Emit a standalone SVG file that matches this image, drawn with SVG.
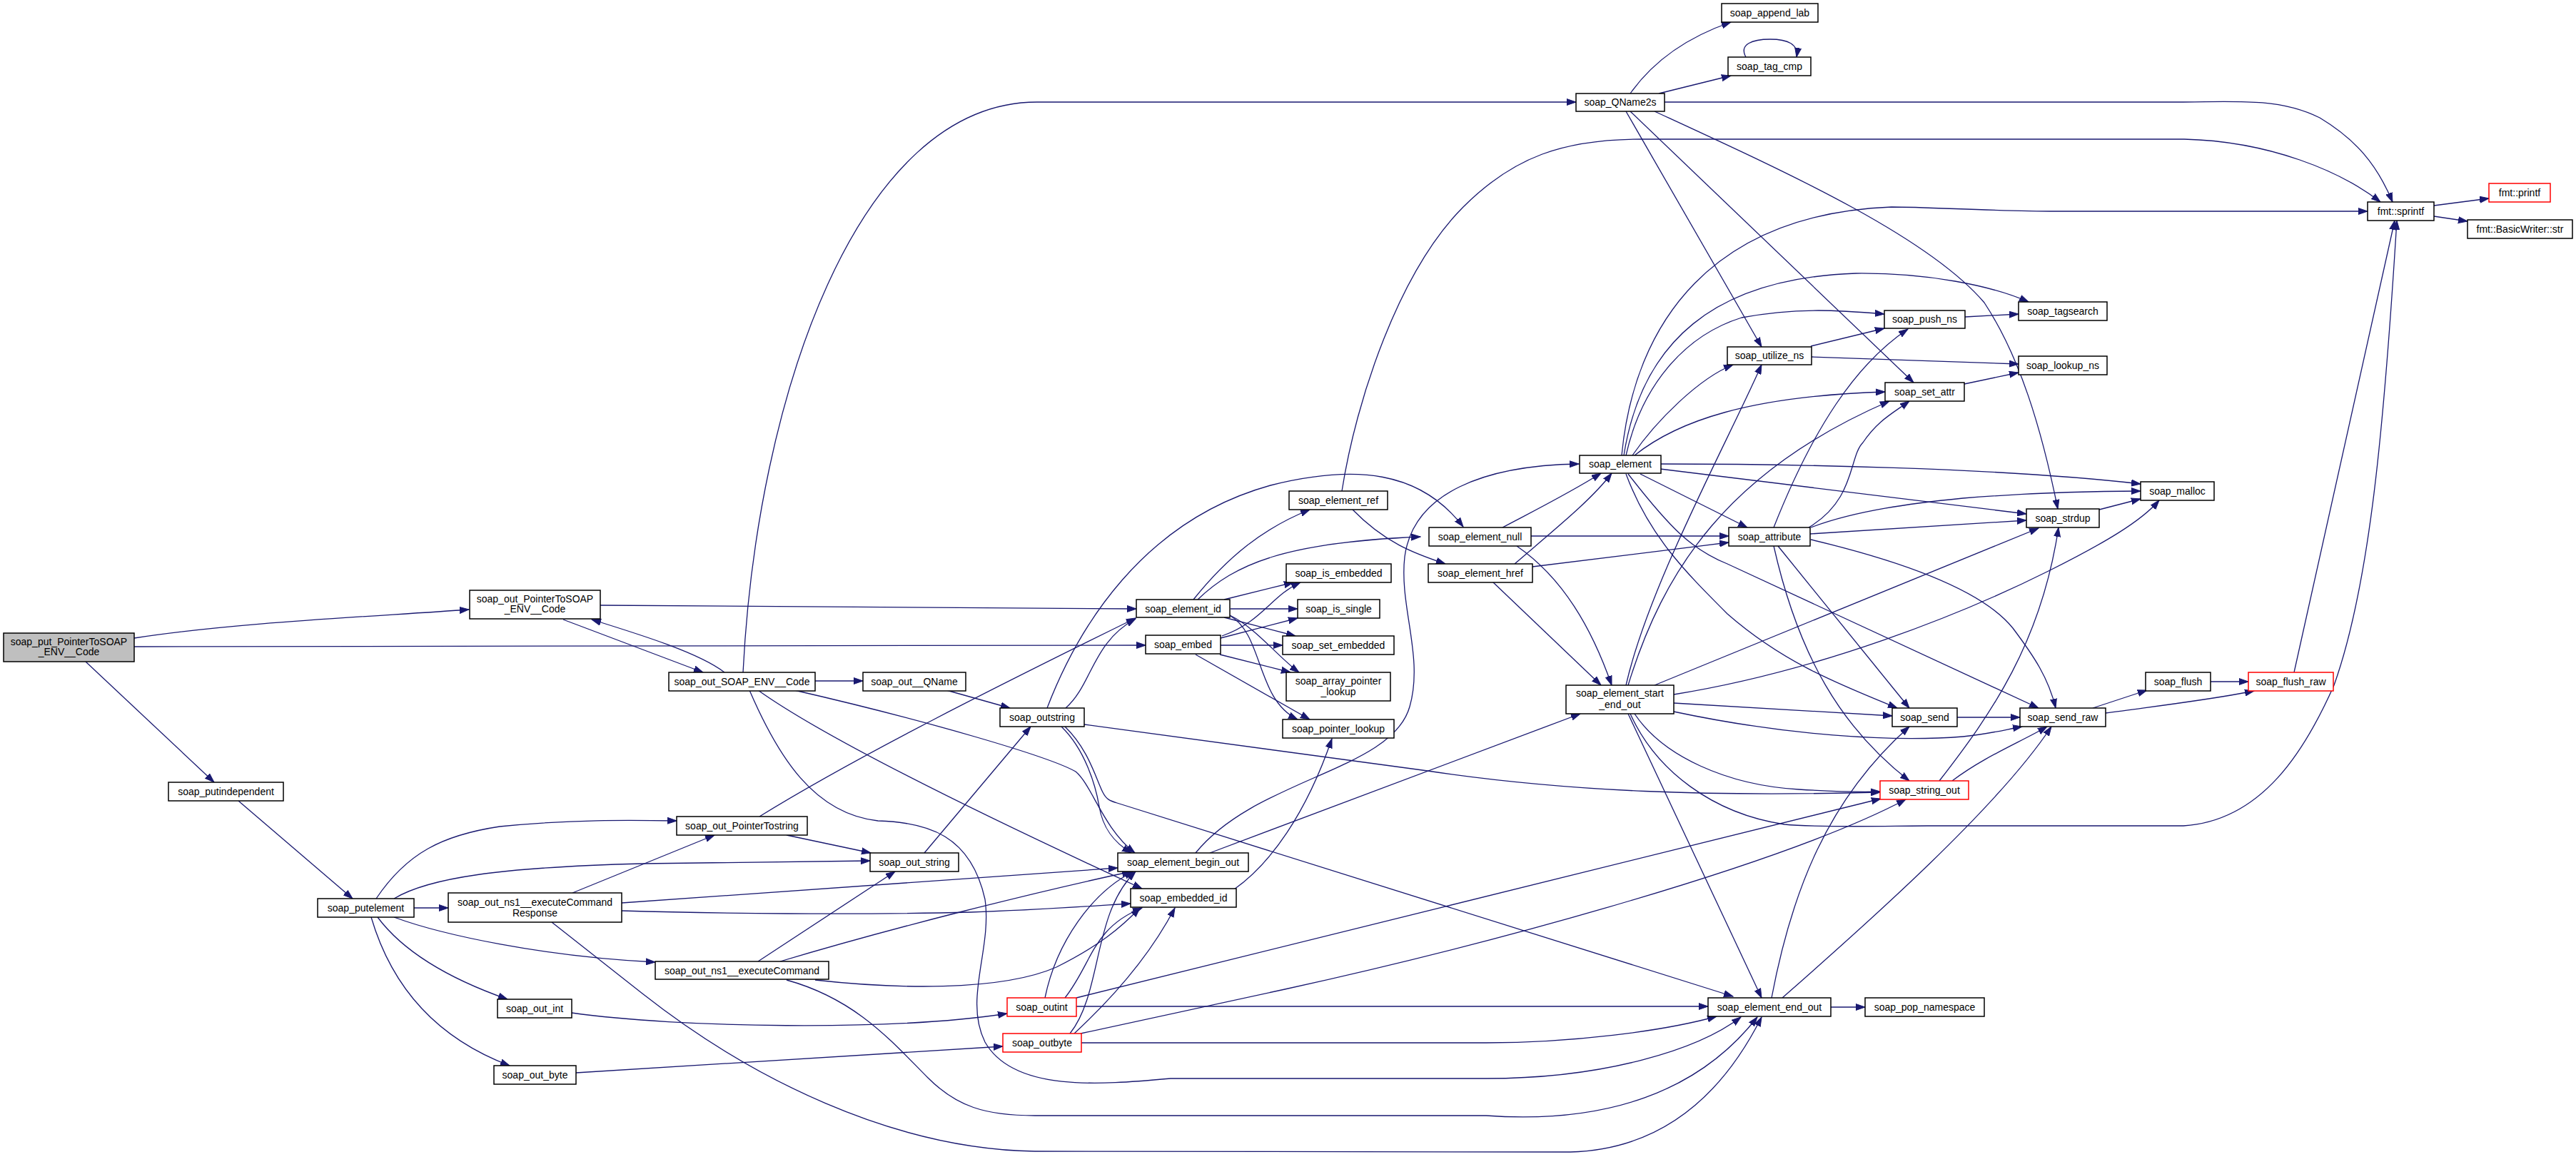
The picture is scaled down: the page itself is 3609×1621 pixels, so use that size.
<svg xmlns="http://www.w3.org/2000/svg" width="3609" height="1621" viewBox="0 0 3609 1621">
<style>
.n rect{fill:#fff;stroke:#000;stroke-width:1.5}
.n.r rect{stroke:#ff0000}
.n.g rect{fill:#bfbfbf}
.n text{font-family:"Liberation Sans",Arial,sans-serif;font-size:14px;text-anchor:middle;fill:#000}
#edges path{fill:none;stroke:#191970;stroke-width:1.3;marker-end:url(#a)}
</style>
<defs>
<marker id="a" markerUnits="userSpaceOnUse" markerWidth="14" markerHeight="10" refX="13" refY="5" orient="auto" viewBox="0 0 14 10">
<path d="M0,0.5 L13,5 L0,9.5 z" fill="#191970" stroke="#191970" stroke-width="1"/>
</marker>
</defs>
<rect width="3609" height="1621" fill="#fff"/>
<g id="edges">
<path d="M188,894 C330,872 520,864 657,854"/>
<path d="M188,906 L1605,904"/>
<path d="M120,927 L300,1096"/>
<path d="M841,848 C1000,849 1400,852 1592,853"/>
<path d="M789,868 L985,942"/>
<path d="M1015,942 C980,915 900,890 829,868"/>
<path d="M1142,954 L1209,954"/>
<path d="M1041,942 C1060,560 1200,143 1453,143 L2208,143"/>
<path d="M1113,967 C1300,1010 1470,1060 1507,1081 C1530,1100 1545,1160 1590,1195"/>
<path d="M1062,967 C1150,1030 1350,1130 1600,1245"/>
<path d="M1050,967 C1090,1060 1140,1140 1230,1150 C1300,1152 1360,1170 1380,1260 C1390,1330 1350,1400 1380,1460 C1420,1530 1540,1520 1640,1511 L2082,1511 C2250,1511 2380,1470 2439,1425"/>
<path d="M334,1122 L494,1259"/>
<path d="M527,1259 C570,1195 620,1170 700,1158 C800,1148 880,1149 948,1150"/>
<path d="M552,1259 C600,1230 700,1215 900,1210 L1219,1206"/>
<path d="M580,1272 L628,1272"/>
<path d="M552,1285 C620,1310 760,1340 918,1348"/>
<path d="M529,1285 C570,1340 640,1375 711,1400"/>
<path d="M520,1285 C545,1370 600,1450 714,1493"/>
<path d="M802,1251 L1001,1170"/>
<path d="M871,1265 L1566,1216"/>
<path d="M871,1276 C1000,1280 1200,1282 1360,1278 C1450,1275 1520,1270 1584,1266"/>
<path d="M773,1292 L900,1392 C1050,1510 1250,1610 1450,1613 L2200,1614 C2340,1610 2420,1520 2468,1425"/>
<path d="M1062,1347 L1254,1221"/>
<path d="M1093,1347 C1250,1300 1450,1250 1585,1221"/>
<path d="M1142,1373 C1250,1385 1400,1390 1480,1355 C1540,1325 1570,1300 1597,1272"/>
<path d="M1102,1373 C1200,1400 1250,1460 1300,1510 C1340,1550 1380,1563 1450,1563 L2082,1563 C2250,1575 2380,1530 2462,1425"/>
<path d="M801,1419 C950,1440 1250,1445 1411,1420"/>
<path d="M807,1503 L1405,1466"/>
<path d="M1464,1398 C1480,1320 1530,1250 1588,1221"/>
<path d="M1492,1398 C1530,1350 1530,1300 1600,1272"/>
<path d="M1508,1398 L2635,1119"/>
<path d="M1508,1410 L2393,1410"/>
<path d="M1499,1448 C1545,1390 1530,1280 1591,1221"/>
<path d="M1505,1448 Q1600,1360 1646,1272"/>
<path d="M1514,1448 L1800,1386 C2100,1320 2500,1210 2670,1120"/>
<path d="M1514,1461 L2082,1461 C2200,1461 2330,1445 2405,1424"/>
<path d="M1729,1246 C1780,1210 1830,1140 1866,1035"/>
<path d="M1675,1195 C1760,1090 1950,1080 1975,990 C1995,920 1960,850 1968,780 C1980,690 2080,652 2212,650"/>
<path d="M1695,1195 L2214,1000"/>
<path d="M1102,1170 L1220,1195"/>
<path d="M1064,1144 C1200,1060 1400,960 1591,866"/>
<path d="M1295,1195 L1444,1018"/>
<path d="M1326,967 L1415,992"/>
<path d="M1493,992 C1530,960 1530,900 1591,867"/>
<path d="M1467,992 C1510,880 1600,730 1780,680 C1900,650 1990,660 2050,738"/>
<path d="M1487,1018 C1520,1050 1535,1100 1540,1130 C1545,1160 1560,1180 1585,1195"/>
<path d="M1492,1018 C1525,1050 1535,1090 1545,1110 C1550,1120 1555,1122 1565,1125 L2428,1396"/>
<path d="M1519,1015 L2000,1080 C2200,1110 2400,1116 2634,1110"/>
<path d="M1672,840 C1720,780 1770,740 1835,714"/>
<path d="M1678,840 C1730,790 1800,760 1990,752"/>
<path d="M1715,840 L1812,816"/>
<path d="M1712,891 C1770,870 1780,835 1822,816"/>
<path d="M1724,853 L1818,853"/>
<path d="M1710,894 L1818,866"/>
<path d="M1715,865 L1815,891"/>
<path d="M1710,904 L1797,904"/>
<path d="M1723,862 C1760,880 1790,920 1820,942"/>
<path d="M1709,917 L1808,942"/>
<path d="M1724,863 C1770,890 1760,980 1818,1008"/>
<path d="M1675,917 L1835,1008"/>
<path d="M1895,714 C1940,760 1980,775 2025,790"/>
<path d="M1880,688 C1900,560 1960,380 2050,290 C2120,220 2190,195 2300,195 L3060,195 C3180,198 3280,240 3335,283"/>
<path d="M2105,739 C2160,710 2200,690 2243,663"/>
<path d="M2145,751 L2422,751"/>
<path d="M2125,765 C2190,810 2230,880 2258,960"/>
<path d="M2122,790 C2180,740 2230,700 2258,663"/>
<path d="M2147,794 L2422,760"/>
<path d="M2091,815 L2243,960"/>
<path d="M2272,638 C2290,450 2400,300 2650,290 C2700,290 2800,296 2880,296 L3317,296"/>
<path d="M2275,638 C2300,480 2400,390 2600,383 C2700,382 2790,400 2842,423"/>
<path d="M2278,638 C2300,540 2360,470 2440,445 C2520,430 2580,435 2640,440"/>
<path d="M2287,638 C2320,590 2380,530 2428,511"/>
<path d="M2290,638 C2350,590 2450,555 2641,549"/>
<path d="M2326,650 C2500,650 2800,655 2999,678"/>
<path d="M2326,657 L2839,720"/>
<path d="M2298,664 L2448,739"/>
<path d="M2281,664 C2340,740 2370,770 2420,790 L2856,992"/>
<path d="M2278,664 C2310,750 2360,800 2420,860 C2500,930 2580,960 2658,992"/>
<path d="M2485,739 C2540,600 2600,510 2673,461"/>
<path d="M2534,739 C2600,700 2590,640 2610,620 C2630,590 2650,580 2675,562"/>
<path d="M2537,739 C2600,715 2680,705 2750,698 C2850,690 2930,688 2999,688"/>
<path d="M2536,748 L2839,729"/>
<path d="M2537,756 C2680,790 2780,830 2820,880 C2850,920 2870,950 2880,992"/>
<path d="M2485,765 C2520,920 2580,1020 2675,1094"/>
<path d="M2491,765 L2675,992"/>
<path d="M2278,960 C2310,820 2420,620 2468,511"/>
<path d="M2281,960 C2330,800 2420,660 2647,562"/>
<path d="M2318,960 L2856,740"/>
<path d="M2345,973 C2550,940 2750,860 2870,800 C2950,760 3000,730 3025,701"/>
<path d="M2345,985 L2651,1003"/>
<path d="M2345,997 C2500,1030 2650,1040 2750,1032 C2790,1028 2810,1022 2833,1018"/>
<path d="M2281,1000 L2468,1398"/>
<path d="M2284,1000 C2320,1080 2400,1140 2500,1155 C2550,1160 2650,1157 2700,1157 L3059,1157 C3170,1150 3230,1050 3270,960 C3320,820 3340,600 3358,309"/>
<path d="M2290,1000 C2330,1060 2420,1100 2520,1106 C2570,1109 2600,1110 2634,1109"/>
<path d="M2537,485 L2640,460"/>
<path d="M2538,500 L2828,510"/>
<path d="M2753,444 L2828,440"/>
<path d="M2752,538 L2828,522"/>
<path d="M2284,131 C2320,80 2370,50 2425,31"/>
<path d="M2324,131 L2425,106"/>
<path d="M2446,80 C2436,62 2455,55 2480,55 C2505,55 2520,62 2517,80"/>
<path d="M2332,143 L3059,143 C3150,141 3200,140 3250,165 C3300,195 3330,230 3352,283"/>
<path d="M2278,156 L2468,486"/>
<path d="M2284,156 L2681,536"/>
<path d="M2318,156 C2500,240 2700,330 2780,424 C2830,500 2860,600 2883,713"/>
<path d="M2941,714 L2999,699"/>
<path d="M2742,1005 L2830,1005"/>
<path d="M2932,992 L3008,967"/>
<path d="M2950,999 C3030,988 3100,980 3158,968"/>
<path d="M3097,955 L3150,955"/>
<path d="M3214,942 L3355,309"/>
<path d="M3410,288 L3487,278"/>
<path d="M3410,303 L3457,310"/>
<path d="M2717,1094 C2790,1000 2860,900 2884,739"/>
<path d="M2735,1094 C2780,1060 2830,1040 2868,1018"/>
<path d="M2482,1398 C2510,1250 2560,1120 2675,1018"/>
<path d="M2497,1398 C2620,1290 2800,1130 2874,1018"/>
<path d="M2565,1411 L2613,1411"/>
</g>
<g id="n1" class="n g"><rect x="5" y="887" width="183" height="40"/><text x="96.5" y="904">soap_put_PointerToSOAP</text><text x="96.5" y="918">_ENV__Code</text></g>
<g id="n2" class="n"><rect x="658" y="827" width="183" height="40"/><text x="749.5" y="844">soap_out_PointerToSOAP</text><text x="749.5" y="858">_ENV__Code</text></g>
<g id="n3" class="n"><rect x="1605" y="890" width="105" height="26"/><text x="1657.5" y="908">soap_embed</text></g>
<g id="n4" class="n"><rect x="236" y="1096" width="161" height="26"/><text x="316.5" y="1114">soap_putindependent</text></g>
<g id="n5" class="n"><rect x="445" y="1259" width="135" height="26"/><text x="512.5" y="1277">soap_putelement</text></g>
<g id="n6" class="n"><rect x="937" y="942" width="205" height="26"/><text x="1039.5" y="960">soap_out_SOAP_ENV__Code</text></g>
<g id="n7" class="n"><rect x="1592" y="840" width="131" height="25"/><text x="1657.5" y="858">soap_element_id</text></g>
<g id="n8" class="n"><rect x="1209" y="942" width="144" height="26"/><text x="1281" y="960">soap_out__QName</text></g>
<g id="n9" class="n"><rect x="1401" y="992" width="118" height="26"/><text x="1460" y="1010">soap_outstring</text></g>
<g id="n10" class="n"><rect x="2208" y="131" width="124" height="25"/><text x="2270" y="148">soap_QName2s</text></g>
<g id="n11" class="n"><rect x="1566" y="1195" width="183" height="26"/><text x="1657.5" y="1213">soap_element_begin_out</text></g>
<g id="n12" class="n"><rect x="1584" y="1245" width="148" height="26"/><text x="1658" y="1263">soap_embedded_id</text></g>
<g id="n13" class="n"><rect x="2393" y="1398" width="172" height="26"/><text x="2479" y="1416">soap_element_end_out</text></g>
<g id="n14" class="n"><rect x="948" y="1144" width="183" height="26"/><text x="1039.5" y="1162">soap_out_PointerTostring</text></g>
<g id="n15" class="n"><rect x="1219" y="1195" width="124" height="26"/><text x="1281" y="1213">soap_out_string</text></g>
<g id="n16" class="n"><rect x="628" y="1251" width="243" height="41"/><text x="749.5" y="1269">soap_out_ns1__executeCommand</text><text x="749.5" y="1284">Response</text></g>
<g id="n17" class="n"><rect x="918" y="1347" width="243" height="25"/><text x="1039.5" y="1365">soap_out_ns1__executeCommand</text></g>
<g id="n18" class="n"><rect x="697" y="1400" width="104" height="26"/><text x="749" y="1418">soap_out_int</text></g>
<g id="n19" class="n"><rect x="692" y="1493" width="115" height="26"/><text x="749.5" y="1511">soap_out_byte</text></g>
<g id="n20" class="n r"><rect x="1411" y="1398" width="97" height="26"/><text x="1459.5" y="1416">soap_outint</text></g>
<g id="n21" class="n r"><rect x="1405" y="1448" width="110" height="26"/><text x="1460" y="1466">soap_outbyte</text></g>
<g id="n22" class="n"><rect x="1806" y="688" width="138" height="26"/><text x="1875" y="706">soap_element_ref</text></g>
<g id="n23" class="n"><rect x="1802" y="790" width="147" height="26"/><text x="1875.5" y="808">soap_is_embedded</text></g>
<g id="n24" class="n"><rect x="1818" y="840" width="115" height="26"/><text x="1875.5" y="858">soap_is_single</text></g>
<g id="n25" class="n"><rect x="1797" y="891" width="156" height="26"/><text x="1875" y="909">soap_set_embedded</text></g>
<g id="n26" class="n"><rect x="1802" y="942" width="146" height="40"/><text x="1875" y="959">soap_array_pointer</text><text x="1875" y="974">_lookup</text></g>
<g id="n27" class="n"><rect x="1797" y="1008" width="156" height="26"/><text x="1875" y="1026">soap_pointer_lookup</text></g>
<g id="n28" class="n"><rect x="2002" y="739" width="143" height="26"/><text x="2073.5" y="757">soap_element_null</text></g>
<g id="n29" class="n"><rect x="2001" y="790" width="146" height="26"/><text x="2074" y="808">soap_element_href</text></g>
<g id="n30" class="n"><rect x="2213" y="638" width="114" height="25"/><text x="2270" y="655">soap_element</text></g>
<g id="n31" class="n"><rect x="2194" y="960" width="151" height="40"/><text x="2269.5" y="976">soap_element_start</text><text x="2269.5" y="992">_end_out</text></g>
<g id="n32" class="n"><rect x="2422" y="739" width="114" height="26"/><text x="2479" y="757">soap_attribute</text></g>
<g id="n33" class="n"><rect x="2420" y="486" width="118" height="25"/><text x="2479" y="503">soap_utilize_ns</text></g>
<g id="n34" class="n"><rect x="2641" y="536" width="111" height="26"/><text x="2696.5" y="554">soap_set_attr</text></g>
<g id="n35" class="n"><rect x="2640" y="435" width="113" height="25"/><text x="2696.5" y="452">soap_push_ns</text></g>
<g id="n36" class="n"><rect x="2828" y="423" width="124" height="26"/><text x="2890" y="441">soap_tagsearch</text></g>
<g id="n37" class="n"><rect x="2828" y="499" width="124" height="26"/><text x="2890" y="517">soap_lookup_ns</text></g>
<g id="n38" class="n"><rect x="2999" y="675" width="103" height="26"/><text x="3050.5" y="693">soap_malloc</text></g>
<g id="n39" class="n"><rect x="2839" y="713" width="102" height="26"/><text x="2890" y="731">soap_strdup</text></g>
<g id="n40" class="n"><rect x="2651" y="992" width="91" height="26"/><text x="2696.5" y="1010">soap_send</text></g>
<g id="n41" class="n"><rect x="2830" y="992" width="120" height="26"/><text x="2890" y="1010">soap_send_raw</text></g>
<g id="n42" class="n"><rect x="3006" y="942" width="91" height="26"/><text x="3051.5" y="960">soap_flush</text></g>
<g id="n43" class="n r"><rect x="3150" y="942" width="119" height="26"/><text x="3209.5" y="960">soap_flush_raw</text></g>
<g id="n44" class="n r"><rect x="2634" y="1094" width="124" height="26"/><text x="2696" y="1112">soap_string_out</text></g>
<g id="n45" class="n"><rect x="2613" y="1398" width="167" height="26"/><text x="2696.5" y="1416">soap_pop_namespace</text></g>
<g id="n46" class="n"><rect x="2412" y="5" width="135" height="26"/><text x="2479.5" y="23">soap_append_lab</text></g>
<g id="n47" class="n"><rect x="2421" y="80" width="116" height="26"/><text x="2479" y="98">soap_tag_cmp</text></g>
<g id="n48" class="n"><rect x="3317" y="283" width="93" height="26"/><text x="3363.5" y="301">fmt::sprintf</text></g>
<g id="n49" class="n r"><rect x="3487" y="257" width="86" height="26"/><text x="3530" y="275">fmt::printf</text></g>
<g id="n50" class="n"><rect x="3457" y="308" width="147" height="26"/><text x="3530.5" y="326">fmt::BasicWriter::str</text></g>
</svg>
